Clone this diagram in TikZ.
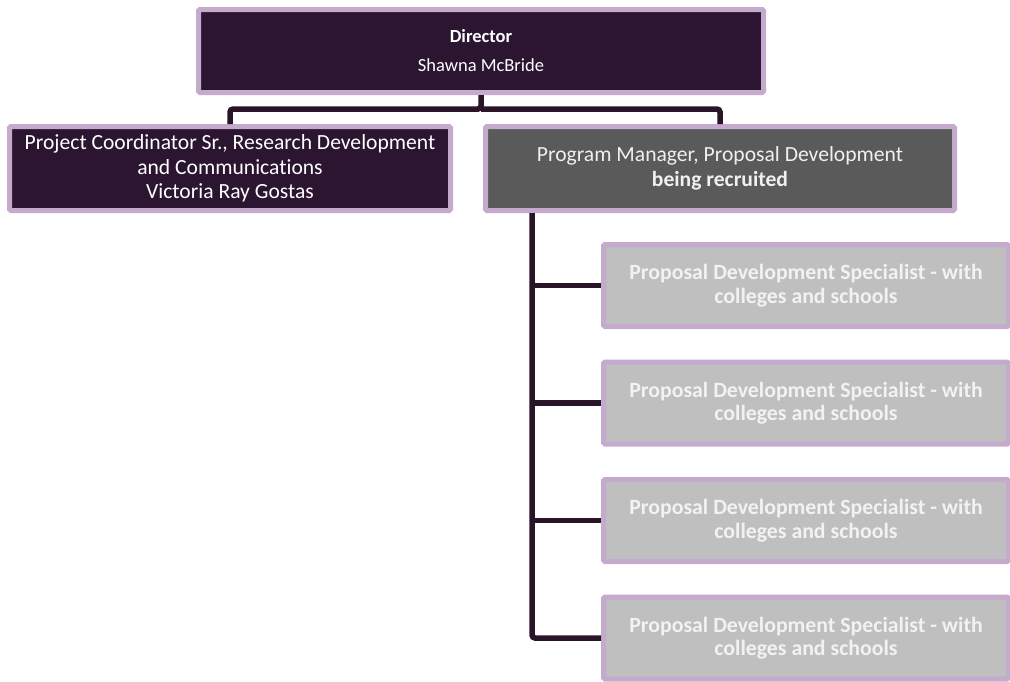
\documentclass[tikz,border=0pt]{standalone}
\usepackage{fontspec}
\setmainfont[Ligatures=NoCommon]{Carlito}
\definecolor{plum}{HTML}{2C1530}
\definecolor{lav}{HTML}{C4AACD}
\definecolor{pmgrey}{HTML}{5A5A5A}
\definecolor{spgrey}{HTML}{BFBFBF}
\definecolor{conncol}{HTML}{2A1428}
\begin{document}
\begin{tikzpicture}[x=1pt,y=-1pt,
  box/.style={draw=lav,line width=5pt,rounded corners=1.5pt,inner sep=0pt,align=center,
    font=\fontsize{21.6}{24.5}\selectfont},
  dirbox/.style={box,fill=plum,text=white},
  pmbox/.style={box,fill=pmgrey,text=white!94!black},
  spbox/.style={box,fill=spgrey,text=white!95!black,font=\fontsize{21.8}{23.5}\selectfont\bfseries,
    minimum width=405pt,minimum height=82pt},
  conn/.style={draw=conncol,line width=5.5pt,rounded corners=3pt}]
\useasboundingbox (0,0) rectangle (1010,681);
\node[dirbox,minimum width=565pt,minimum height=83pt,font=\fontsize{18.5}{24}\selectfont] (dir) at (481,51)
  {\textbf{Director}\\[5pt]Shawna McBride};
\node[dirbox,minimum width=441pt,minimum height=84pt] (pc) at (230,168.5)
  {Project Coordinator Sr., Research Development\\and Communications\\Victoria Ray Gostas};
\node[pmbox,minimum width=469pt,minimum height=84pt] (pm) at (720,168.5)
  {Program Manager, Proposal Development\\\textbf{being recruited}};
\node[spbox] (s1) at (806,285.5) {Proposal Development Specialist - with\\colleges and schools};
\node[spbox] (s2) at (806,403) {Proposal Development Specialist - with\\colleges and schools};
\node[spbox] (s3) at (806,520.5) {Proposal Development Specialist - with\\colleges and schools};
\node[spbox] (s4) at (806,638) {Proposal Development Specialist - with\\colleges and schools};
\coordinate (bar) at (481,109);
\coordinate (trunk) at (532,213);
\draw[conn] (dir.south) -- (bar) -| (pc.north);
\draw[conn] (bar) -| (pm.north);
\draw[conn] (trunk) |- (s4.west);
\draw[conn,rounded corners=0pt] (trunk |- s1.west) -- (s1.west);
\draw[conn,rounded corners=0pt] (trunk |- s2.west) -- (s2.west);
\draw[conn,rounded corners=0pt] (trunk |- s3.west) -- (s3.west);
\end{tikzpicture}
\end{document}
